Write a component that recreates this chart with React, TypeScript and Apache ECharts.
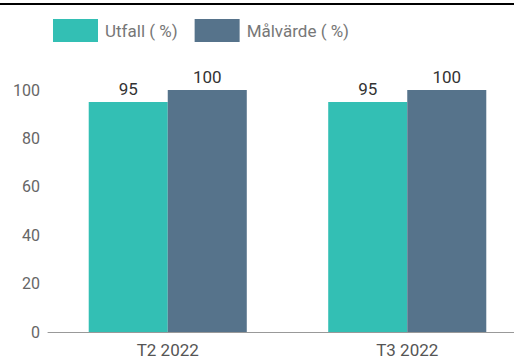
import React, { useEffect, useRef } from "react";
import * as echarts from "echarts";

const categories = ["T2 2022", "T3 2022"];
const utfall = [95, 95];
const malvarde = [100, 100];
const seriesNames = ["Utfall ( %)", "Målvärde ( %)"];

export default function App() {
  const ref = useRef<HTMLDivElement>(null);
  useEffect(() => {
    const chart = echarts.init(ref.current!, undefined, { renderer: "svg" });
    chart.setOption({
      animation: false,
      textStyle: { fontFamily: "Roboto" },
      graphic: [
        { type: "rect", shape: { x: 0, y: 3, width: 514, height: 2 }, style: { fill: "#000" }, z: 100 },
      ],
      legend: {
        left: 48,
        top: 14,
        itemWidth: 45,
        itemHeight: 23,
        itemGap: 17,
        icon: "rect",
        textStyle: { fontSize: 17, color: "#777", fontFamily: "Roboto", padding: [0, 0, 0, 2] },
        data: seriesNames,
      },
      grid: { left: 48, right: 0, top: 90, bottom: 28, containLabel: false },
      xAxis: {
        type: "category",
        data: categories,
        axisTick: { show: false },
        axisLine: { lineStyle: { color: "#999" } },
        axisLabel: { fontSize: 17, color: "#555", margin: 9 },
      },
      yAxis: {
        type: "value",
        min: 0,
        max: 100,
        interval: 20,
        splitLine: { show: false },
        axisLine: { show: false },
        axisTick: { show: false },
        axisLabel: { fontSize: 16, color: "#666", margin: 8 },
      },
      series: [
        {
          name: seriesNames[0],
          type: "bar",
          data: utfall,
          barGap: "0%",
          barCategoryGap: "34%",
          itemStyle: { color: "#33bfb4" },
          label: { show: true, position: "top", fontSize: 17, color: "#333", distance: 5 },
        },
        {
          name: seriesNames[1],
          type: "bar",
          data: malvarde,
          barGap: "0%",
          barCategoryGap: "34%",
          itemStyle: { color: "#56738b" },
          label: { show: true, position: "top", fontSize: 17, color: "#333", distance: 5 },
        },
      ],
    });
    return () => chart.dispose();
  }, []);
  return (
    <div style={{ position: "absolute", left: 0, top: 0, width: 514, height: 360, overflow: "hidden" }}>
      <div ref={ref} style={{ width: 527, height: 360 }} />
    </div>
  );
}
